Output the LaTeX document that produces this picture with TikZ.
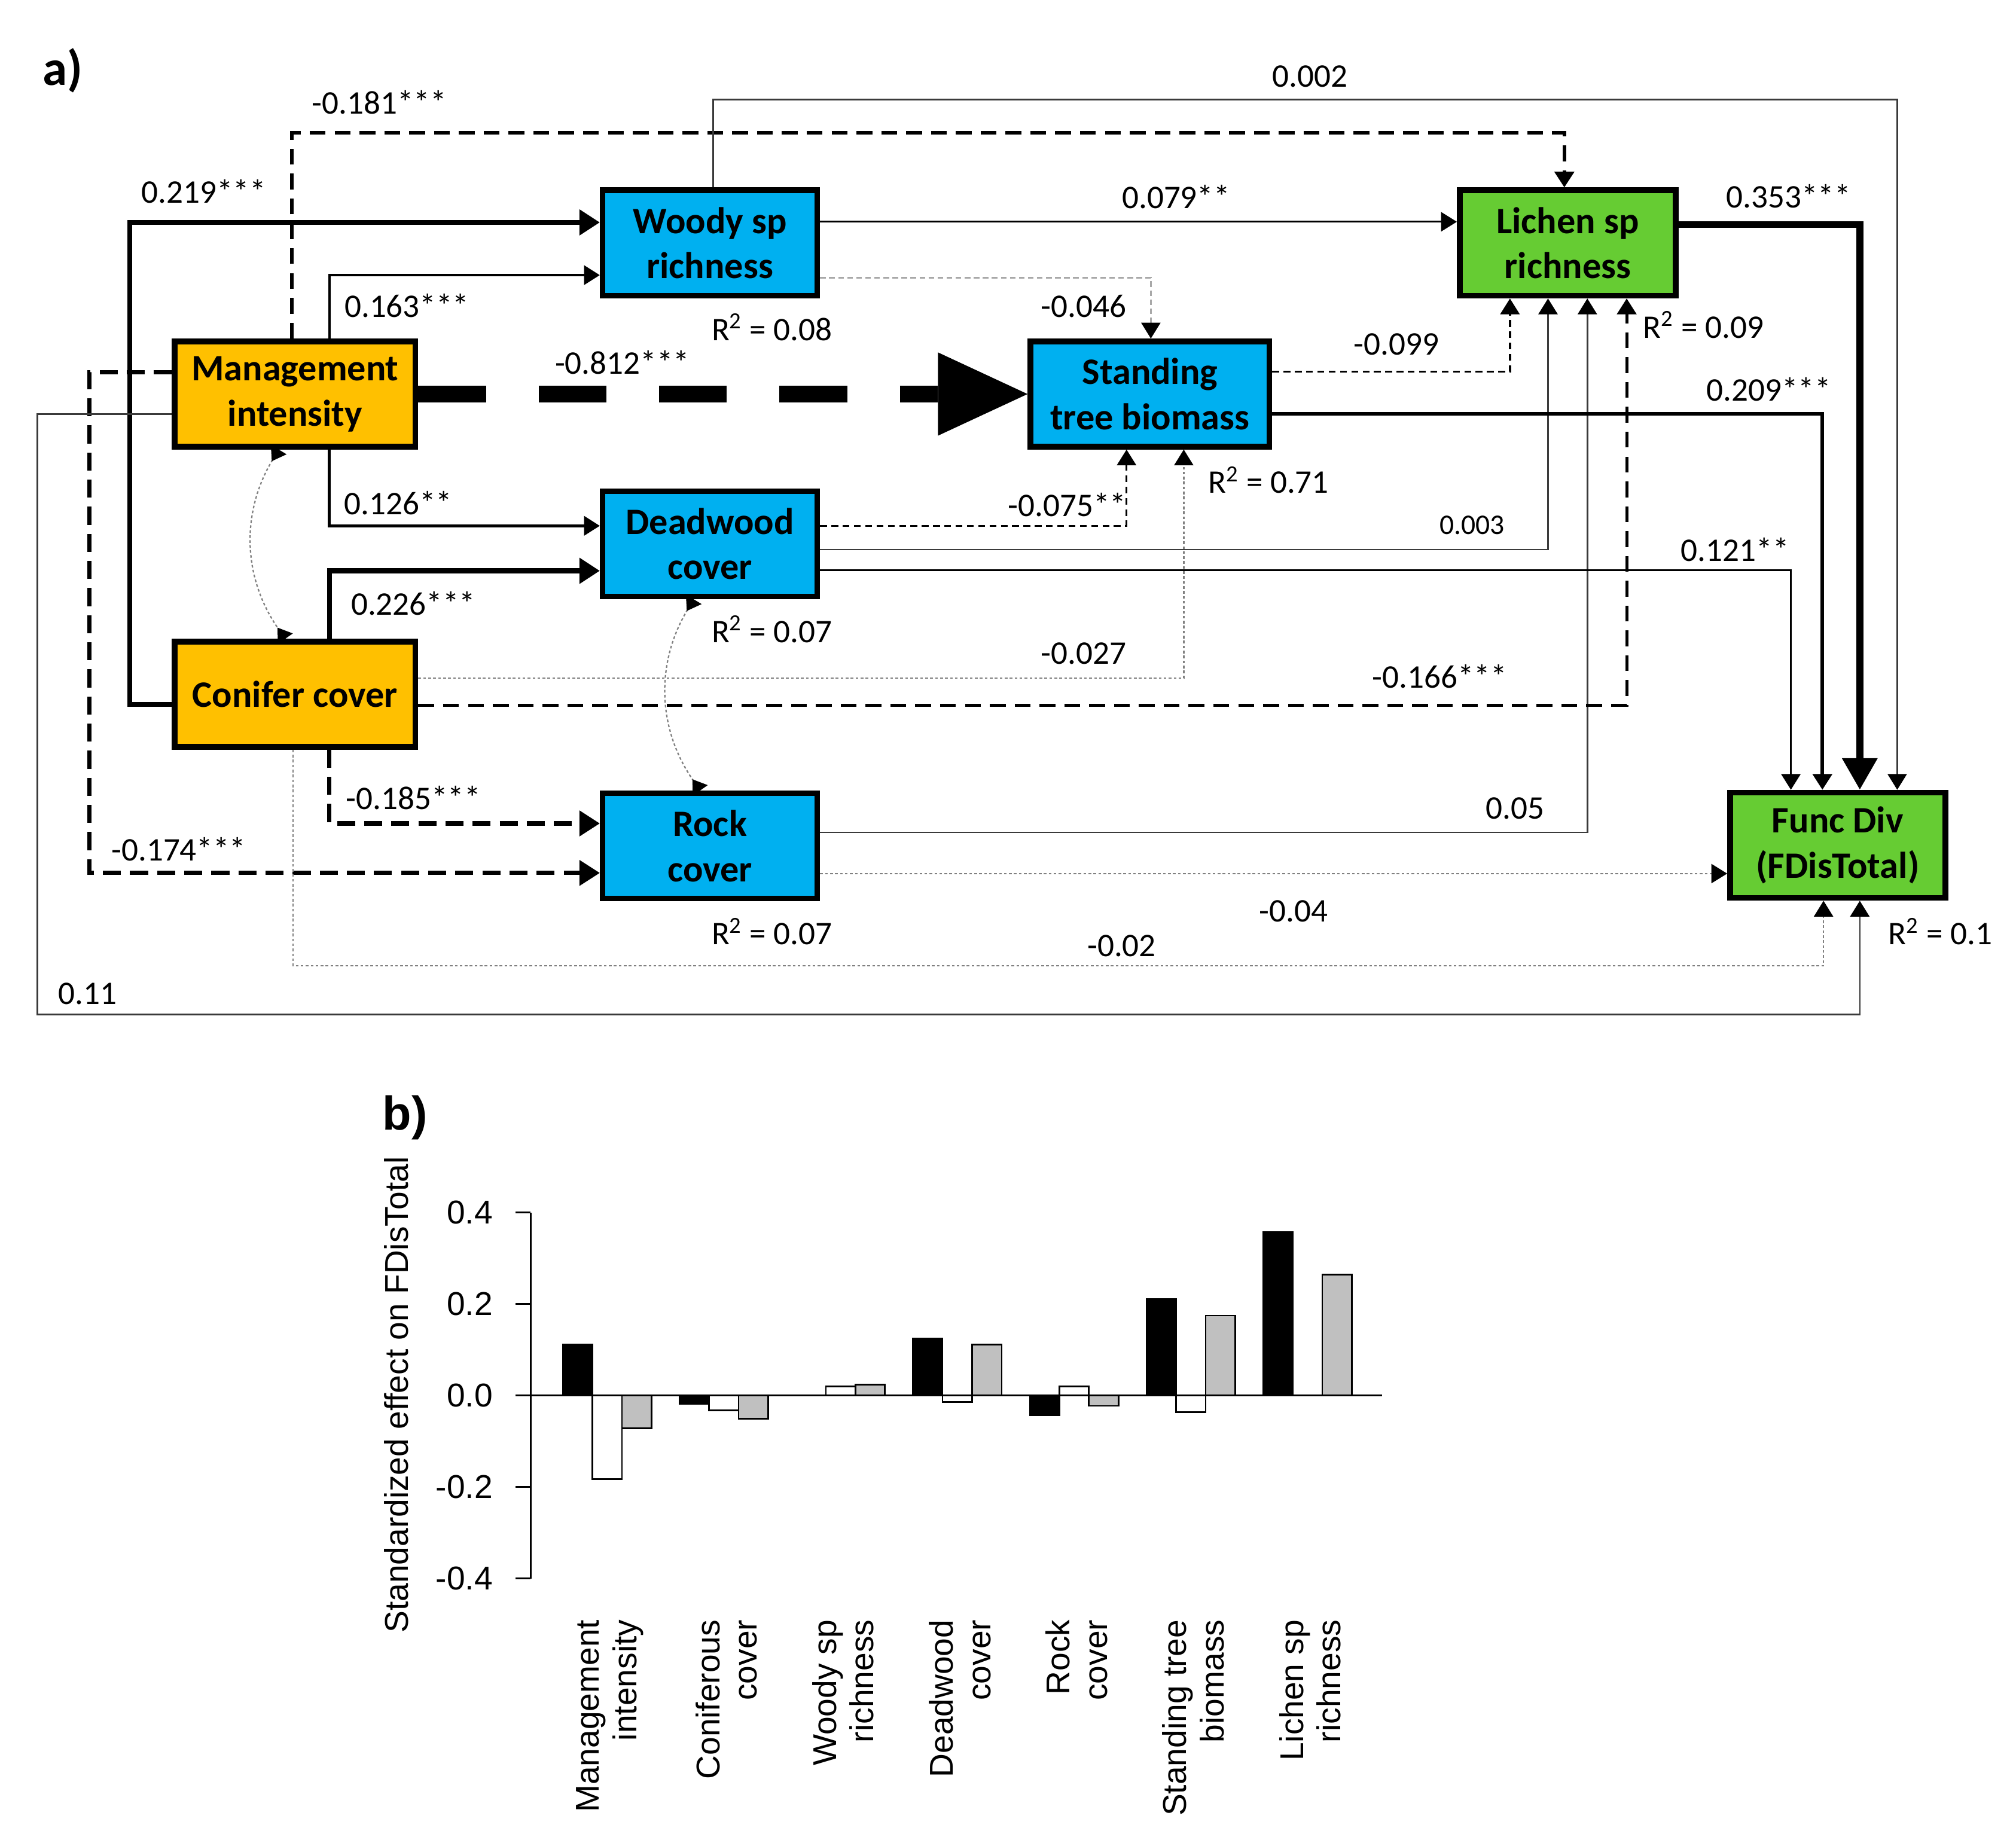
\documentclass[tikz,border=0pt]{standalone}
\usepackage{fontspec}
\setmainfont{Carlito}
\newfontfamily\chartfont{Liberation Sans}
\usetikzlibrary{arrows.meta,calc}

\definecolor{mgmtorange}{HTML}{FFC000}
\definecolor{varblue}{HTML}{00B0F0}
\definecolor{vargreen}{HTML}{66CC33}
\definecolor{linegray}{HTML}{3A3A3A}
\definecolor{dotgray}{HTML}{808080}
\definecolor{lightdot}{HTML}{A8A8A8}
\definecolor{bargray}{HTML}{C0C0C0}

\begin{document}
\begin{tikzpicture}[x=0.02cm, y=-0.02cm]
        % Define styles
        \tikzset{
            varbox/.style={rectangle, draw, line width=2.5pt, minimum height=1.64cm, inner sep=0pt, align=center, font=\fontsize{16.5}{20}\selectfont\bfseries},
            exogenous/.style={varbox, fill=mgmtorange, minimum width=3.746cm},
            mediator/.style={varbox, fill=varblue, minimum width=3.34cm},
            response/.style={varbox, fill=vargreen, minimum width=3.36cm},
            coef/.style={inner sep=0pt, font=\fontsize{14.6}{17}\selectfont},
            smallcoef/.style={inner sep=0pt, font=\fontsize{12.6}{15}\selectfont},
            arrow/.style={-{Triangle[length=7pt,width=8.5pt,color=black]}},
            heavyarrow/.style={-{Triangle[length=9pt,width=11pt]}},
            thinpath/.style={arrow, line width=0.7pt, draw=linegray},
            dotpath/.style={arrow, line width=0.6pt, draw=dotgray, dash pattern=on 1.2pt off 1pt},
            dashpath/.style={arrow, line width=0.9pt, dash pattern=on 3pt off 2pt},
            corr/.style={{Triangle[reversed,length=6pt,width=8pt,color=black]}-{Triangle[reversed,length=6pt,width=8pt,color=black]}, line width=0.6pt, draw=dotgray, dash pattern=on 1.2pt off 1pt},
            chart/.style={inner sep=0pt, font=\chartfont\fontsize{14.6}{16.6}\selectfont},
            barlabel/.style={chart, rotate=90, anchor=east, align=right}
        }
        \useasboundingbox (0,0) rectangle (1568,1431);

        % Nodes
        \node[exogenous] (mgmt_node) at (229.5,306.5) {Management\\intensity};
        \node[exogenous] (conif_node) at (229.5,540) {Conifer cover};
        \node[mediator] (woody_node) at (552.2,189) {Woody sp\\richness};
        \node[mediator] (dead_node) at (552.2,423) {Deadwood\\cover};
        \node[mediator] (rock_node) at (552.2,658) {Rock\\cover};
        \node[mediator, minimum width=3.72cm] (stand_node) at (894.4,306.5) {Standing\\tree biomass};
        \node[response] (lichen_node) at (1219.3,189) {Lichen sp\\richness};
        \node[response, minimum width=3.35cm] (fdiv_node) at (1429.3,657.5) {Func Div\\(FDisTotal)};

        % Arrows
        \draw[line width=7.4pt, dash pattern=on 30pt off 23.3pt, -{Triangle[length=39.7pt,width=36.9pt,line width=0pt]}] (mgmt_node) -- (stand_node);
        \draw[arrow, line width=1.2pt] ($(mgmt_node.north)+(26.7,0)$) |- ($(woody_node.west)+(0,25)$);
        \draw[heavyarrow, line width=2.1pt] ($(conif_node.west)+(0,8)$) -- ++(-32.7,0) |- ($(woody_node.west)+(0,-16)$);
        \draw[arrow, line width=1.7pt, dash pattern=on 7pt off 4pt] ($(mgmt_node.north)+(-2.5,0)$) -- ++(0,-160) -| ($(lichen_node.north)+(-2.6,0)$);
        \draw[arrow, line width=1.3pt] ($(mgmt_node.south)+(26.7,0)$) |- ($(dead_node.west)+(0,-14)$);
        \draw[heavyarrow, line width=2.2pt] ($(conif_node.north)+(26.7,0)$) |- ($(dead_node.west)+(0,21)$);
        \draw[heavyarrow, line width=1.9pt, dash pattern=on 8pt off 4pt] ($(conif_node.south)+(26.7,0)$) |- ($(rock_node.west)+(0,-17.5)$);
        \draw[heavyarrow, line width=1.8pt, dash pattern=on 8pt off 4pt] ($(mgmt_node.west)+(0,-17)$) -- ++(-64,0) |- ($(rock_node.west)+(0,21)$);
        \draw[thinpath] ($(mgmt_node.west)+(0,15.5)$) -- ++(-104.5,0) -- ++(0,467) -| ($(fdiv_node.south)+(17.2,0)$);
        \draw[dotpath] ($(conif_node.south)+(-1.5,0)$) -- ++(0,168) -| ($(fdiv_node.south)+(-11,0)$);
        \draw[dotpath] ($(rock_node.east)+(0,21.5)$) -- ($(fdiv_node.west)+(0,22)$);
        \draw[thinpath] ($(rock_node.east)+(0,-10.5)$) -| ($(lichen_node.south)+(15.3,0)$);
        \draw[arrow, line width=1.3pt, dash pattern=on 7pt off 4pt] ($(conif_node.east)+(0,8.5)$) -| ($(lichen_node.south)+(45.9,0)$);
        \draw[dotpath] ($(conif_node.east)+(0,-12.6)$) -| ($(stand_node.south)+(26.3,0)$);
        \draw[dashpath] ($(dead_node.east)+(0,-14)$) -| ($(stand_node.south)+(-18.2,0)$);
        \draw[thinpath] ($(dead_node.east)+(0,4.5)$) -| ($(lichen_node.south)+(-15.3,0)$);
        \draw[arrow, line width=1pt] ($(dead_node.east)+(0,20.5)$) -| ($(fdiv_node.north)+(-36.4,0)$);
        \draw[arrow, line width=1.5pt] ($(stand_node.east)+(0,15.5)$) -| ($(fdiv_node.north)+(-11.9,0)$);
        \draw[dashpath] ($(stand_node.east)+(0,-17.5)$) -| ($(lichen_node.south)+(-44.9,0)$);
        \draw[dotpath, draw=lightdot, dash pattern=on 2.5pt off 1.5pt] ($(woody_node.east)+(0,27)$) -| ($(stand_node.north)+(0.7,0)$);
        \draw[arrow, line width=0.8pt] ($(woody_node.east)+(0,-16.5)$) -- ($(lichen_node.west)+(0,-16.5)$);
        \draw[thinpath] ($(woody_node.north)+(2.5,0)$) -- ++(0,-68.5) -| ($(fdiv_node.north)+(46.3,0)$);
        \draw[line width=3pt, -{Triangle[length=14pt,width=15pt]}] ($(lichen_node.east)+(0,-14.5)$) -| ($(fdiv_node.north)+(17.2,0)$);

        % Correlations
        \draw[corr] ($(mgmt_node.south)+(-12.7,0)$) to[bend right=33] ($(conif_node.north)+(-7.6,0)$);
        \draw[corr] ($(dead_node.south)+(-12.6,0)$) to[bend right=33] ($(rock_node.north)+(-7.6,0)$);

        % Path coefficients
        \node[font=\fontsize{22}{24}\selectfont\bfseries, inner sep=0pt] (a_label) at (48.6,55) {a)};
        \node[coef] (coef_mgmt_lichen) at (295,79.6) {-0.181***};
        \node[coef] (coef_woody_fdiv) at (1019,59.5) {0.002};
        \node[coef] (coef_conif_woody) at (158.4,148.8) {0.219***};
        \node[coef] (coef_woody_lichen) at (914.7,153.3) {0.079**};
        \node[coef] (coef_lichen_fdiv) at (1391,152.7) {0.353***};
        \node[coef] (coef_mgmt_woody) at (316.4,237.6) {0.163***};
        \node[coef] (rsq_woody) at (600.4,254.6) {R\textsuperscript{2} = 0.08};
        \node[coef] (coef_woody_stand) at (842.8,238) {-0.046};
        \node[coef] (coef_stand_lichen) at (1086,267.6) {-0.099};
        \node[coef] (rsq_lichen) at (1325,252.7) {R\textsuperscript{2} = 0.09};
        \node[coef] (coef_mgmt_stand) at (484,282) {-0.812***};
        \node[coef] (coef_stand_fdiv) at (1375.8,302.9) {0.209***};
        \node[coef] (rsq_stand) at (986.6,373.4) {R\textsuperscript{2} = 0.71};
        \node[coef] (coef_mgmt_dead) at (309.6,391.3) {0.126**};
        \node[coef] (coef_dead_stand) at (830,392.7) {-0.075**};
        \node[smallcoef] (coef_dead_lichen) at (1145,408.4) {0.003};
        \node[coef] (coef_dead_fdiv) at (1349.5,427.5) {0.121**};
        \node[coef] (coef_conif_dead) at (321.5,469.6) {0.226***};
        \node[coef] (rsq_dead) at (600.4,489.5) {R\textsuperscript{2} = 0.07};
        \node[coef] (coef_conif_stand) at (842.8,508.2) {-0.027};
        \node[coef] (coef_conif_lichen) at (1119.7,526.1) {-0.166***};
        \node[coef] (coef_conif_rock) at (321.5,620.5) {-0.185***};
        \node[coef] (coef_rock_lichen) at (1178.5,629) {0.05};
        \node[coef] (coef_mgmt_rock) at (139,660.4) {-0.174***};
        \node[coef] (coef_rock_fdiv) at (1006,708.8) {-0.04};
        \node[coef] (rsq_rock) at (600.4,724.5) {R\textsuperscript{2} = 0.07};
        \node[coef] (coef_conif_fdiv) at (872.4,735.9) {-0.02};
        \node[coef] (rsq_fdiv) at (1509,724.5) {R\textsuperscript{2} = 0.1};
        \node[coef] (coef_mgmt_fdiv) at (68,772.9) {0.11};

        % Bar chart
        \node[chart, font=\chartfont\bfseries\fontsize{21}{24}\selectfont] (b_label) at (315,869.4) {b)};
        \node[chart, rotate=90] (y_label) at (308.5,1085) {Standardized effect on FDisTotal};
        \foreach \vb/\vw/\vg [count=\k from 0] in {0.111/-0.183/-0.072, -0.019/-0.033/-0.051, 0/0.019/0.023, 0.124/-0.015/0.111, -0.043/0.019/-0.023, 0.210/-0.037/0.174, 0.357/0/0.264} {
            \pgfmathsetmacro\gx{437.7+90.8*\k}
            \draw[line width=0.7pt, fill=black] (\gx,1085.3) rectangle ++(23,-356*\vb);
            \draw[line width=0.7pt, fill=white] (\gx+23,1085.3) rectangle ++(23,-356*\vw);
            \draw[line width=0.7pt, fill=bargray] (\gx+46,1085.3) rectangle ++(23,-356*\vg);
        }
        \draw[line width=0.8pt] (412.6,943.3) -- (412.6,1228.1);
        \draw[line width=0.9pt] (412.6,1085.3) -- (1074.8,1085.3);
        \foreach \v/\t [count=\k] in {0.4/0.4, 0.2/0.2, 0/0.0, -0.2/-0.2, -0.4/-0.4} {
            \draw[line width=0.8pt] (400.9,1085.3-356*\v) -- (412.6,1085.3-356*\v);
            \node[chart, anchor=east] (tick_\k) at (383.5,1085.3-356*\v) {\t};
        }
        \foreach \lab [count=\k from 0] in {{Management\\intensity}, {Coniferous\\cover}, {Woody sp\\richness}, {Deadwood\\cover}, {Rock\\cover}, {Standing tree\\biomass}, {Lichen sp\\richness}}
            \node[barlabel] (bar_label_\k) at (474.2+90.8*\k,1259.6) {\lab};
    \end{tikzpicture}
\end{document}
